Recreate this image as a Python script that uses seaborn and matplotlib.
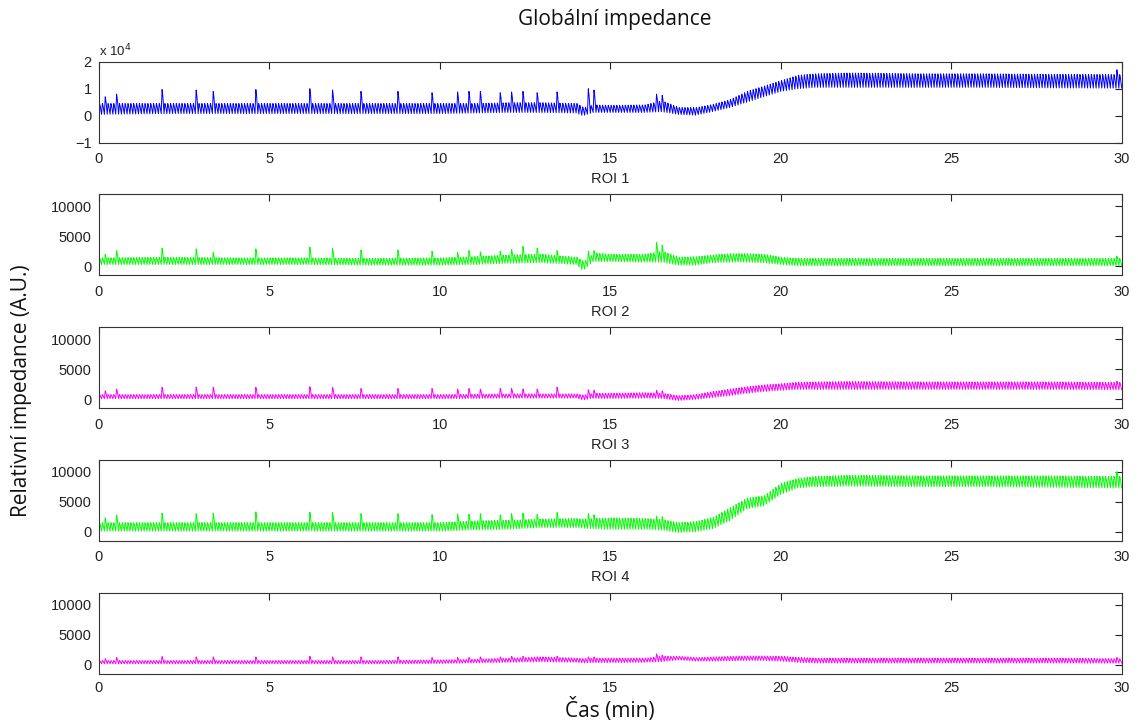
import numpy as np
import pandas as pd
import matplotlib
matplotlib.use("Agg")
import matplotlib.pyplot as plt
from matplotlib.ticker import FuncFormatter
import seaborn as sns

# ---------------- data ----------------
# envelope knots (minutes)
t_knots = [0, 2, 4, 6, 8, 10, 11, 12, 13, 14, 14.2, 14.5, 15, 16, 16.5, 17, 17.5,
           18, 18.5, 19, 19.5, 20, 20.5, 21, 22, 24, 26, 28, 30]

roi1_low = [500, 800, 800, 800, 800, 800, 1000, 1200, 1200, 1000, 0, 1200, 1200, 1200, 1500, 500, 200,
            1500, 3000, 5000, 7000, 9000, 10000, 10500, 10500, 10500, 10500, 10300, 10200]
roi1_high = [4500, 4500, 4500, 4500, 4500, 4500, 4500, 4800, 4800, 4500, 3000, 4000, 3800, 4000, 5500, 3000, 3000,
             4200, 6000, 9000, 11000, 13000, 15000, 15500, 15800, 15500, 15500, 15300, 15200]

roi2_low = [300, 300, 300, 300, 200, 200, 300, 500, 600, 300, -700, 800, 800, 700, 700, 200, 200,
            600, 700, 700, 600, 300, 100, 100, 100, 100, 100, 100, 100]
roi2_high = [1400, 1500, 1400, 1400, 1300, 1400, 1600, 1900, 2000, 1500, 800, 2200, 2000, 2000, 2500, 1500, 1600,
             1900, 2100, 2100, 2000, 1500, 1300, 1300, 1300, 1300, 1300, 1300, 1300]

roi3_low = [100, 100, 100, 100, 100, 100, 150, 200, 200, 200, -100, 150, 150, 200, 150, -200, 0,
            300, 600, 1000, 1300, 1500, 1650, 1650, 1650, 1650, 1650, 1650, 1600]
roi3_high = [800, 800, 800, 800, 800, 800, 850, 900, 900, 900, 700, 1000, 1000, 1100, 1000, 600, 800,
             1300, 1700, 2100, 2400, 2600, 2850, 2900, 2950, 2900, 2900, 2900, 2800]

roi4_low = [100, 100, 100, 100, 100, 100, 300, 400, 700, 700, 600, 500, 400, 400, 300, -150, 0,
            500, 1800, 3800, 4300, 6200, 7300, 7500, 7600, 7500, 7500, 7400, 7300]
roi4_high = [1500, 1500, 1500, 1500, 1500, 1500, 1800, 1900, 2100, 2200, 2100, 2200, 2300, 2200, 2000, 1500, 1700,
             2400, 4000, 5600, 6000, 8100, 8900, 9200, 9400, 9300, 9300, 9300, 9200]

roi5_low = [150, 150, 150, 150, 150, 200, 300, 400, 500, 400, 300, 350, 350, 400, 500, 800, 600,
            600, 650, 700, 700, 600, 400, 280, 280, 280, 280, 280, 250]
roi5_high = [700, 700, 700, 700, 700, 800, 900, 1100, 1300, 1100, 1000, 1100, 1100, 1100, 1400, 1400, 1200,
             1300, 1400, 1450, 1450, 1400, 1200, 1100, 1100, 1100, 1100, 1100, 1000]

# sigh / spike times (minutes) and heights per ROI
spike_t = [0.2, 0.5, 1.85, 2.8, 3.35, 4.6, 6.2, 6.85, 7.7, 8.75, 9.75, 10.5, 10.8, 11.2,
           11.75, 12.1, 12.45, 12.8, 13.4, 14.3, 14.5, 16.3, 16.5, 29.8]
roi1_spk = [7000, 8000, 9700, 9500, 9000, 9700, 10000, 9500, 9000, 9000, 8500, 8800, 9000, 9000,
            8500, 8800, 9000, 8500, 8800, 10000, 9500, 8000, 7500, 17000]
roi2_spk = [2000, 2600, 3000, 2900, 2300, 2900, 3200, 3000, 2700, 2700, 2500, 2300, 2600, 2400,
            2500, 2800, 3300, 3000, 2600, 2500, 2600, 4000, 3500, 1700]
roi3_spk = [1400, 1700, 2000, 2000, 2000, 2000, 2100, 2000, 1800, 1800, 1800, 1700, 1800, 1700,
            1800, 1800, 1700, 1700, 2000, 1600, 1500, 1500, 1400, 3000]
roi4_spk = [2300, 2750, 3100, 3000, 3100, 3300, 3250, 3200, 3000, 3000, 2850, 2950, 2900, 3000,
            2800, 3000, 3100, 2900, 3200, 3000, 2800, 2600, 2500, 10000]
roi5_spk = [1000, 1200, 1350, 1300, 1300, 1300, 1400, 1300, 1300, 1300, 1200, 1200, 1200, 1300,
            1300, 1400, 1400, 1300, 1400, 1300, 1300, 1800, 1600, 1200]

roi_labels = ["ROI 1", "ROI 2", "ROI 3", "ROI 4", ""]
roi_colors = ["#0000ff", "#00ff00", "#ff00ff", "#00ff00", "#ff00ff"]
x_ticks = [0, 5, 10, 15, 20, 25, 30]

breaths_per_min = 12.0


def build_trace(low, high, spk):
    period = 1.0 / breaths_per_min
    bt = np.arange(0, 30, period)
    lo = np.interp(bt, t_knots, low)
    hi = np.interp(bt, t_knots, high)
    for ts, hs in zip(spike_t, spk):
        i = int(np.argmin(np.abs(bt - ts)))
        hi[i] = hs
    tt = np.column_stack([bt, bt + 0.3 * period, bt + 0.55 * period]).ravel()
    vv = np.column_stack([lo, hi, 0.75 * hi + 0.25 * lo]).ravel()
    tt = np.append(tt, 30.0)
    vv = np.append(vv, lo[-1])
    return pd.DataFrame({"t": tt, "v": vv})


series = [(roi1_low, roi1_high, roi1_spk), (roi2_low, roi2_high, roi2_spk),
          (roi3_low, roi3_high, roi3_spk), (roi4_low, roi4_high, roi4_spk),
          (roi5_low, roi5_high, roi5_spk)]

# ---------------- figure ----------------
sns.set_theme(style="white")
plt.rcParams["font.family"] = ["Liberation Sans", "DejaVu Sans"]

fig = plt.figure(figsize=(11.38, 7.22), dpi=100)
W, H = 1138.0, 722.0
left = 98.7 / W
width = 1023.0 / W
tops = [61.7, 194.3, 327.3, 459.7, 592.7]
ph = 81.0

for k, ((lo, hi, spk), lab, col) in enumerate(zip(series, roi_labels, roi_colors)):
    bottom = 1 - (tops[k] + ph) / H
    ax = fig.add_axes([left, bottom, width, ph / H])
    df = build_trace(lo, hi, spk)
    sns.lineplot(data=df, x="t", y="v", ax=ax, color=col, linewidth=0.7,
                 estimator=None, sort=False)
    ax.set_xlim(0, 30)
    ax.set_xticks(x_ticks)
    if k == 0:
        ax.set_ylim(-10000, 20000)
        ax.set_yticks([-10000, 0, 10000, 20000])
        ax.yaxis.set_major_formatter(FuncFormatter(lambda v, p: "\u22121" if v < 0 else f"{int(v / 1e4)}"))
        ax.text(0.0, 1.03, "x 10$^{4}$", transform=ax.transAxes, fontsize=9.5,
                ha="left", va="bottom", color="#222222")
    else:
        ax.set_ylim(-1500, 12000)
        ax.set_yticks([0, 5000, 10000])
    ax.set_xlabel(lab, fontsize=10.5, labelpad=4, color="#222222")
    ax.set_ylabel("")
    ax.tick_params(axis="both", direction="in", length=5, width=0.8, top=True, right=True,
                   labelsize=10.5, colors="#222222")
    ax.tick_params(axis="x", pad=7 if k < 4 else 5)
    ax.tick_params(axis="y", pad=5)
    for s in ax.spines.values():
        s.set_color("#333333")
        s.set_linewidth(0.8)
    ax.grid(False)

fig.text(0.54, 1 - 20 / H, "Globální impedance", ha="center", va="center",
         fontsize=15, family=["Open Sans", "DejaVu Sans"], color="#111111")
fig.text(0.019, 1 - 391 / H, "Relativní impedance (A.U.)", ha="center", va="center",
         rotation=90, fontsize=15, family=["Open Sans", "DejaVu Sans"], color="#111111")
fig.text(0.536, 1 - 710 / H, "Čas (min)", ha="center", va="center",
         fontsize=15, family=["Open Sans", "DejaVu Sans"], color="#111111")

fig.savefig("out.png", dpi=100)
